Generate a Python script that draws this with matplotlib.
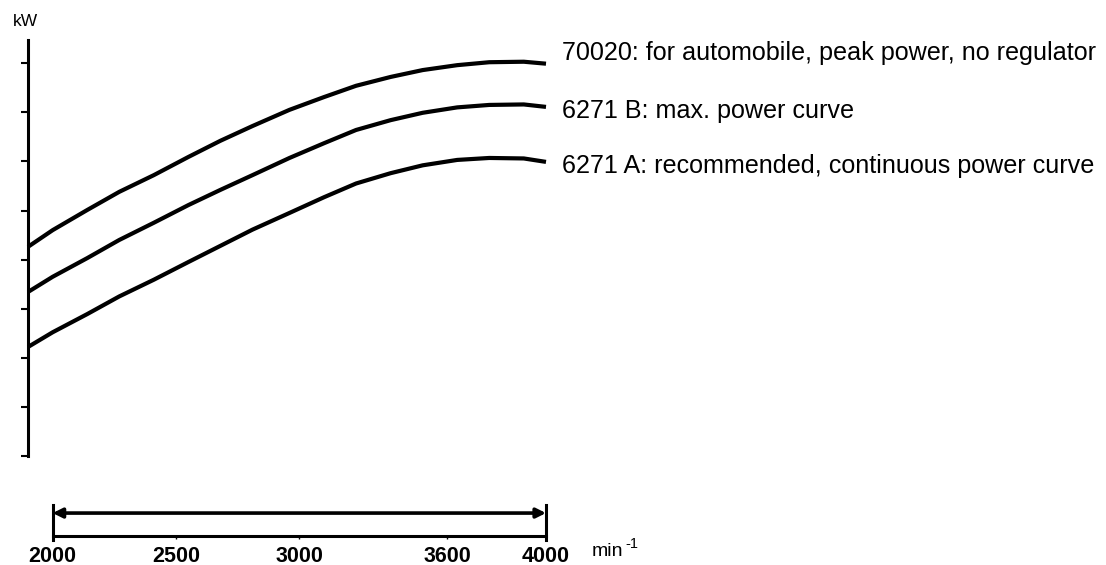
import matplotlib
matplotlib.use("Agg")
import matplotlib.pyplot as plt

plt.rcParams['font.family'] = ['Liberation Sans', 'DejaVu Sans']

# Engine speed (min^-1) and power (in y tick units, axis has no numbers)
rpm = [1900, 2000, 2140, 2270, 2410, 2550, 2680, 2810, 2960,
       3100, 3230, 3370, 3500, 3640, 3770, 3910, 4000]
power_70020 = [4.26, 4.60, 5.01, 5.38, 5.72, 6.09, 6.42, 6.72, 7.05,
               7.31, 7.54, 7.72, 7.86, 7.96, 8.02, 8.03, 7.99]
power_6271b = [3.34, 3.65, 4.03, 4.40, 4.75, 5.11, 5.42, 5.72, 6.07,
               6.37, 6.64, 6.84, 6.99, 7.10, 7.15, 7.16, 7.11]
power_6271a = [2.22, 2.52, 2.89, 3.25, 3.59, 3.95, 4.28, 4.61, 4.95,
               5.27, 5.55, 5.76, 5.92, 6.03, 6.07, 6.06, 5.99]

curve_labels = [
    "70020: for automobile, peak power, no regulator",
    "6271 B: max. power curve",
    "6271 A: recommended, continuous power curve",
]
speed_ticks = [2000, 2500, 3000, 3600, 4000]
y_ticks = [0, 1, 2, 3, 4, 5, 6, 7, 8]

W, H = 1106, 565
fig = plt.figure(figsize=(W / 100, H / 100), dpi=100)

# main power plot
ax = fig.add_axes([28 / W, (H - 456) / H, (546 - 28) / W, (456 - 40) / H])
ax.set_xlim(1900, 4000)
ax.set_ylim(0, (456 - 40) / 49.1)
for s in ["top", "right", "bottom"]:
    ax.spines[s].set_visible(False)
ax.spines["left"].set_linewidth(2.2)
ax.set_xticks([])
ax.set_yticks(y_ticks)
ax.tick_params(axis="y", direction="out", length=5, width=1.5, labelleft=False)

for vals in [power_70020, power_6271b, power_6271a]:
    ax.plot(rpm, vals, color="black", lw=3.0, solid_capstyle="butt",
            solid_joinstyle="round", clip_on=False)

# curve labels on the right (baselines)
for lab, ypx in zip(curve_labels, [60, 118, 173]):
    fig.text(562 / W, 1 - ypx / H, lab, fontsize=18.1, va="baseline", ha="left")

fig.text(13 / W, 1 - 22 / H, "kW", fontsize=12.5, va="center", ha="left")

# speed range bar below
ax2 = fig.add_axes([28 / W, (H - 536) / H, (546 - 28) / W, (536 - 505) / H])
ax2.set_xlim(1900, 4000)
ax2.set_ylim(0, 1)
for s in ["top", "right", "left"]:
    ax2.spines[s].set_visible(False)
ax2.spines["bottom"].set_bounds(2000, 4000)
ax2.spines["bottom"].set_linewidth(2.2)
ax2.set_yticks([])
ax2.set_xticks(speed_ticks)
ax2.set_xticklabels([str(t) for t in speed_ticks], fontsize=15.5, fontweight="bold")
ax2.tick_params(axis="x", direction="out", length=2, width=1, pad=5)
for xv in [2000, 4000]:
    ax2.plot([xv, xv], [-0.13, 1.0], color="black", lw=2.2, clip_on=False)
ax2.annotate("", xy=(2000, 0.74), xytext=(4000, 0.74),
             arrowprops=dict(arrowstyle="<|-|>", lw=2.6, color="black",
                             shrinkA=0, shrinkB=0, mutation_scale=14))

# unit label: min^-1
fig.text(592 / W, (H - 556) / H, "min", fontsize=14, va="baseline", ha="left")
fig.text(625 / W, (H - 548) / H, "-1", fontsize=10.5, va="baseline", ha="left")

fig.savefig("out.png", dpi=100, facecolor="white")
